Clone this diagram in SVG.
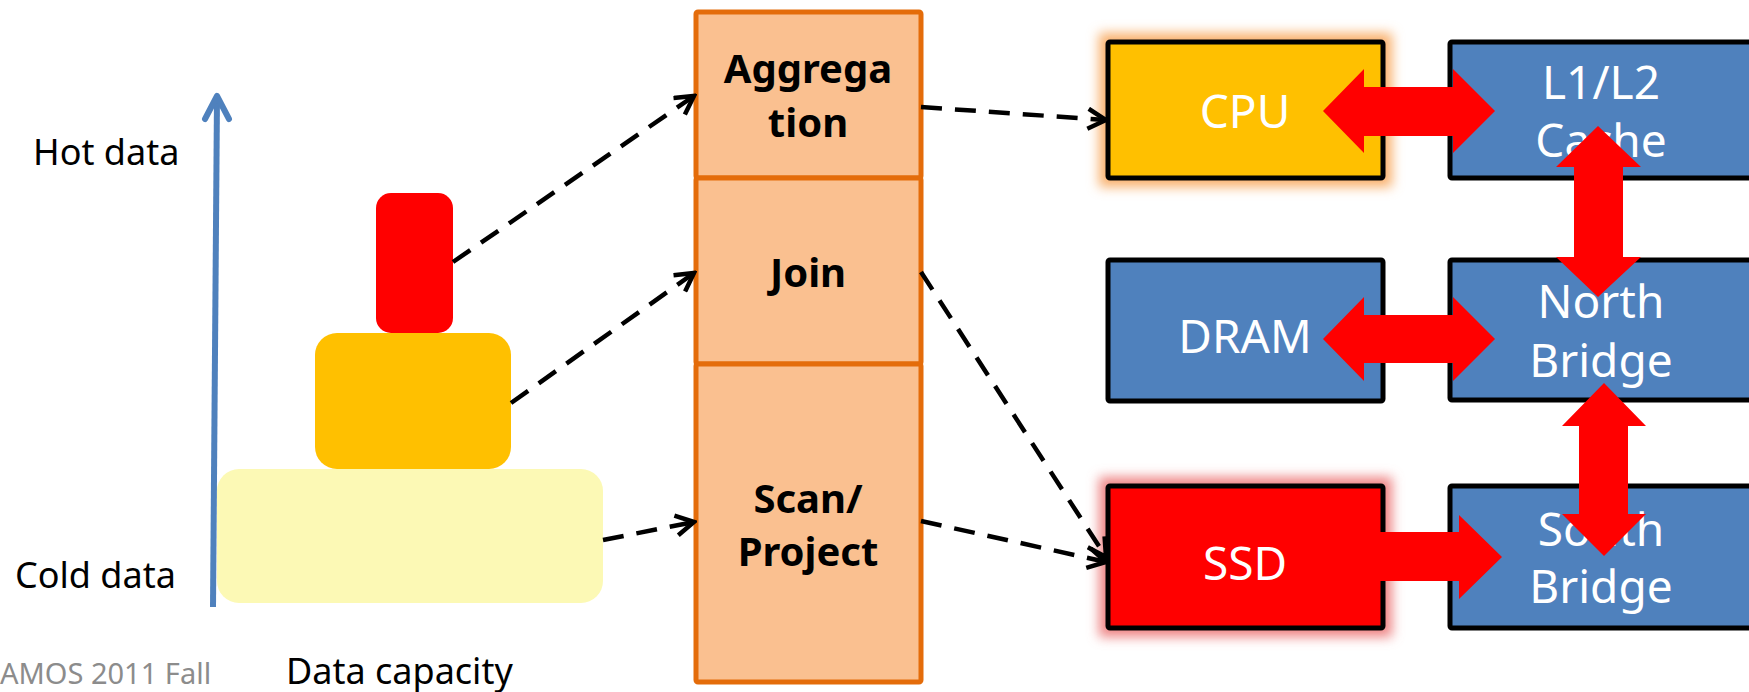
<svg xmlns="http://www.w3.org/2000/svg" width="1749" height="692" viewBox="0 0 1749 692">
  <style>
    .lbl { font-family: "Noto Sans", "Open Sans", "Liberation Sans", sans-serif; font-size: 36px; fill: #000; }
    .foot { font-family: "Noto Sans", "Open Sans", "Liberation Sans", sans-serif; font-size: 29px; fill: #8C8C8C; }
    .op { font-family: "Noto Sans", "Open Sans", "Liberation Sans", sans-serif; font-size: 40px; font-weight: bold; fill: #000; text-anchor: middle; }
    .hw { font-family: "Noto Sans", "Open Sans", "Liberation Sans", sans-serif; font-size: 46px; fill: #fff; text-anchor: middle; }
    .opbox { fill: #FAC090; stroke: #E46C0A; stroke-width: 5; }
    .hwbox { stroke: #000; stroke-width: 5; }
    .blue { fill: #4F81BD; }
    .dash { fill: none; stroke: #000; stroke-width: 4.5; stroke-dasharray: 21 13; marker-end: url(#open); }
    .bus { fill: #FF0000; }
  </style>
  <defs>
    <marker id="open" markerUnits="userSpaceOnUse" viewBox="0 0 24 24" markerWidth="24" markerHeight="24" refX="21" refY="12" orient="auto">
      <path d="M3,2 L21,12 L3,22" fill="none" stroke="#000" stroke-width="4.5" stroke-dasharray="none"/>
    </marker>
    <filter id="soft" x="-20%" y="-20%" width="140%" height="140%">
      <feGaussianBlur stdDeviation="6"/>
    </filter>
  </defs>

  <rect width="1749" height="692" fill="#fff"/>

  <!-- temperature axis -->
  <g id="axis">
    <path d="M213,607 L217,97" stroke="#4F81BD" stroke-width="6" fill="none"/>
    <path d="M205,119 L217,96 L229,119" stroke="#4F81BD" stroke-width="6" fill="none" stroke-linecap="round" stroke-linejoin="round"/>
    <text class="lbl" x="33" y="165">Hot data</text>
    <text class="lbl" x="15" y="588">Cold data</text>
    <text class="lbl" x="286" y="684">Data capacity</text>
    <text class="foot" x="0" y="684">AMOS 2011 Fall</text>
  </g>

  <!-- data tiers -->
  <g id="tier-cold"><rect x="217" y="469" width="386" height="134" rx="22" fill="#FCF9B5"/></g>
  <g id="tier-warm"><rect x="315" y="333" width="196" height="136" rx="22" fill="#FFC000"/></g>
  <g id="tier-hot"><rect x="376" y="193" width="77" height="140" rx="15" fill="#FF0000"/></g>

  <!-- query operators -->
  <g id="op-aggregation">
    <rect class="opbox" x="696" y="12" width="225" height="166" rx="2"/>
    <text class="op" x="808" y="83">Aggrega</text>
    <text class="op" x="808" y="137">tion</text>
  </g>
  <g id="op-join">
    <rect class="opbox" x="696" y="178" width="225" height="186" rx="2"/>
    <text class="op" x="808" y="287">Join</text>
  </g>
  <g id="op-scan">
    <rect class="opbox" x="696" y="364" width="225" height="318" rx="2"/>
    <text class="op" x="808" y="513">Scan/</text>
    <text class="op" x="808" y="566">Project</text>
  </g>

  <!-- hardware -->
  <g id="hw-cpu">
    <rect x="1099" y="33" width="293" height="154" fill="#F9B06C" filter="url(#soft)"/>
    <rect class="hwbox" x="1108" y="42" width="275" height="136" rx="2" fill="#FFC000"/>
    <text class="hw" x="1245" y="128">CPU</text>
  </g>
  <g id="hw-dram">
    <rect class="hwbox blue" x="1108" y="260" width="275" height="141" rx="2"/>
    <text class="hw" x="1245" y="353">DRAM</text>
  </g>
  <g id="hw-ssd">
    <rect x="1099" y="477" width="293" height="160" fill="#EE8484" filter="url(#soft)"/>
    <rect class="hwbox" x="1108" y="486" width="275" height="142" rx="2" fill="#FF0000"/>
    <text class="hw" x="1245" y="580">SSD</text>
  </g>
  <g id="hw-cache">
    <rect class="hwbox blue" x="1450" y="42" width="330" height="136" rx="2"/>
    <text class="hw" x="1601" y="99">L1/L2</text>
    <text class="hw" x="1601" y="157">Cache</text>
  </g>
  <g id="hw-northbridge">
    <rect class="hwbox blue" x="1450" y="260" width="330" height="140" rx="2"/>
    <text class="hw" x="1601" y="318">North</text>
    <text class="hw" x="1601" y="377">Bridge</text>
  </g>
  <g id="hw-southbridge">
    <rect class="hwbox blue" x="1450" y="486" width="330" height="142" rx="2"/>
    <text class="hw" x="1601" y="546">South</text>
    <text class="hw" x="1601" y="603">Bridge</text>
  </g>

  <g id="connectors">
    <!-- tier to operator, operator to device -->
    <path class="dash" d="M453,262 L694,96"/>
    <path class="dash" d="M511,403 L694,273"/>
    <path class="dash" d="M603,540 L694,522"/>
    <path class="dash" d="M921,107 L1106,120"/>
    <path class="dash" d="M921,272 L1106,557"/>
    <path class="dash" d="M921,521 L1106,562"/>
    <!-- buses -->
    <polygon class="bus" points="1323,111 1364,69 1364,87 1453,87 1453,69 1495,111 1453,153 1453,136 1364,136 1364,153"/>
    <polygon class="bus" points="1323,339 1364,297 1364,315 1453,315 1453,297 1495,339 1453,381 1453,363 1364,363 1364,381"/>
    <polygon class="bus" points="1375,532 1459,532 1459,515 1502,557 1459,599 1459,581 1375,581"/>
    <polygon class="bus" points="1598,126 1641,167 1623,167 1623,257 1641,257 1598,297 1556,257 1574,257 1574,167 1556,167"/>
    <polygon class="bus" points="1604,383 1646,426 1628,426 1628,514 1646,514 1604,556 1562,514 1579,514 1579,426 1562,426"/>
  </g>
</svg>
